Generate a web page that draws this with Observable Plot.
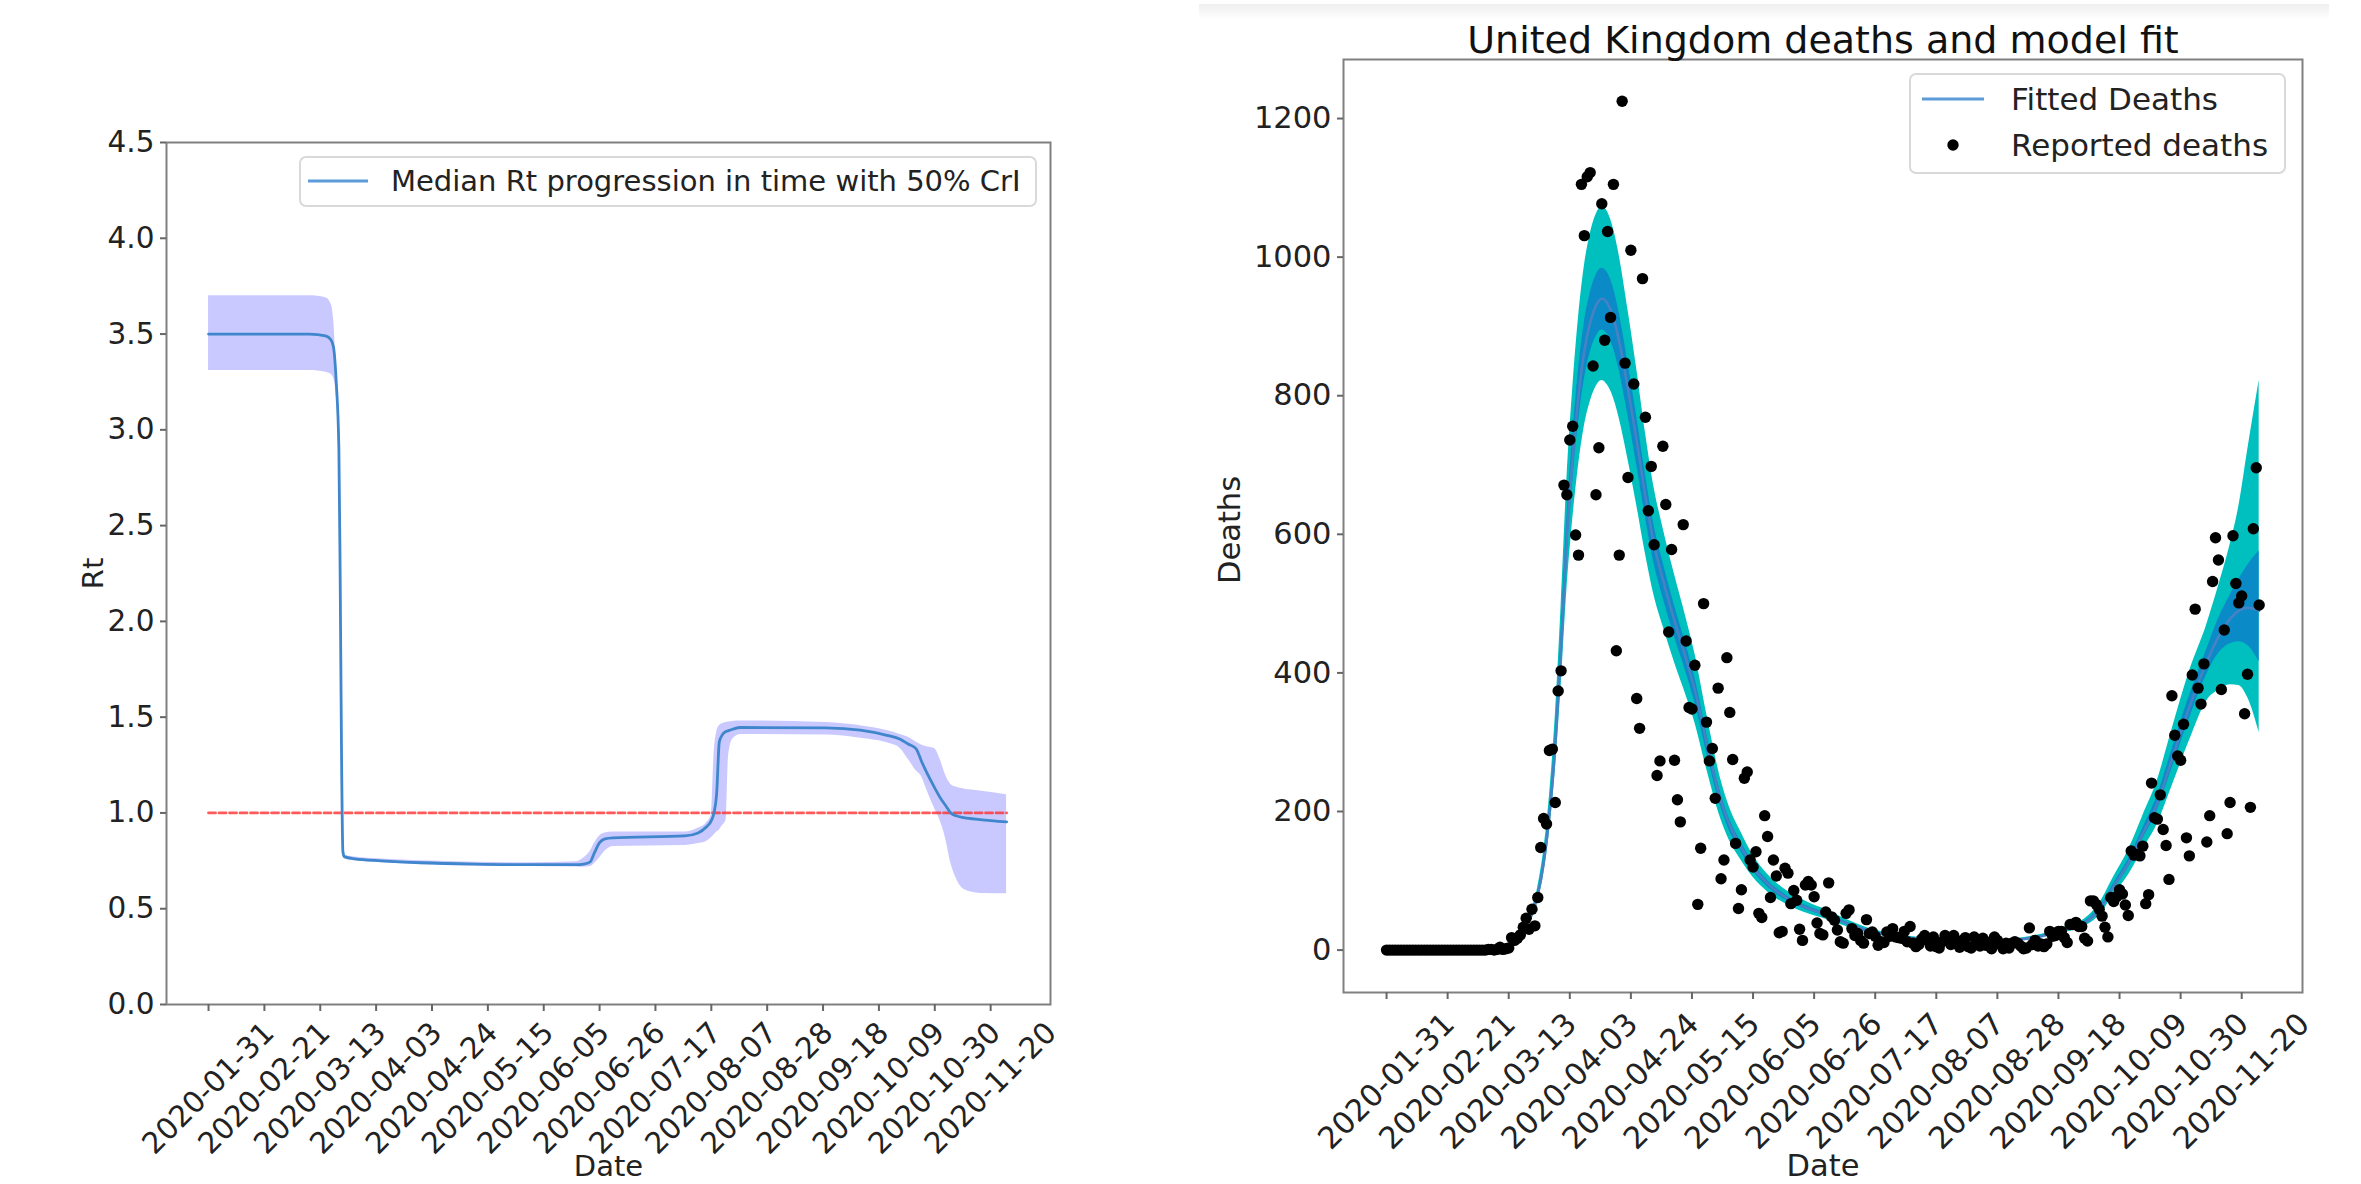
<!DOCTYPE html>
<html>
<head>
<meta charset="utf-8">
<script src="https://cdn.jsdelivr.net/npm/d3@7"></script>
<script src="https://cdn.jsdelivr.net/npm/@observablehq/plot@0.6"></script>
<style>
html, body { margin: 0; padding: 0; background: #fff; }
body { width: 2361px; height: 1184px; position: relative; overflow: hidden; font-family: "DejaVu Sans", sans-serif; }
#left { position: absolute; left: 0; top: 0; }
#right { position: absolute; left: 1181px; top: 0; }
#topbar { position: absolute; left: 1199px; top: 4px; width: 1130px; height: 16px; background: linear-gradient(#efefef, #fff); }
#overlay { position: absolute; left: 0; top: 0; pointer-events: none; }
</style>
</head>
<body>
<div id="topbar"></div>
<div id="left"></div>
<div id="right"></div>
<script>
// ---------------- data ----------------
const startDay = "2020-01-31";
const tickLabels = ["2020-01-31","2020-02-21","2020-03-13","2020-04-03","2020-04-24","2020-05-15","2020-06-05","2020-06-26","2020-07-17","2020-08-07","2020-08-28","2020-09-18","2020-10-09","2020-10-30","2020-11-20"];
const rtTicks = [0, 0.5, 1, 1.5, 2, 2.5, 3, 3.5, 4, 4.5];
const deathTicks = [0, 200, 400, 600, 800, 1000, 1200];
const rtThreshold = 1;

// Rt (days since start)
const rtDay = [0,38,44,46,47,48,49,49.5,50,50.5, 51,55,65,80,100,120,138,141,143.5,145, 147,149,152,179,184,187,189,190,191,192, 193,194.5,195.5,197,200,232,245,255,260,263, 266,268,270,273,275,277,279,281,284,290, 300];
const rtMedian = [3.50,3.50,3.49,3.47,3.43,3.25,2.90,2.20,1.30,0.80, 0.772,0.760,0.750,0.740,0.733,0.730,0.730,0.733,0.745,0.79, 0.845,0.865,0.87,0.88,0.895,0.925,0.96,1.0,1.10,1.37, 1.405,1.425,1.43,1.437,1.446,1.444,1.432,1.405,1.385,1.36, 1.335,1.27,1.21,1.13,1.08,1.04,1.00,0.985,0.975,0.965, 0.953];
const rtLow = [3.31,3.31,3.30,3.29,3.27,3.18,2.86,2.17,1.28,0.79, 0.762,0.750,0.740,0.730,0.723,0.720,0.718,0.716,0.72,0.735, 0.765,0.80,0.825,0.83,0.84,0.85,0.87,0.885,0.90,0.91, 0.93,0.96,1.30,1.385,1.41,1.407,1.39,1.366,1.337,1.28, 1.22,1.19,1.12,1.02,0.96,0.87,0.74,0.66,0.60,0.58, 0.578];
const rtHigh = [3.70,3.70,3.69,3.66,3.58,3.32,2.94,2.23,1.32,0.81, 0.782,0.770,0.760,0.750,0.743,0.740,0.745,0.765,0.80,0.84, 0.88,0.895,0.90,0.90,0.92,0.945,0.99,1.30,1.42,1.455, 1.465,1.472,1.475,1.478,1.48,1.472,1.455,1.43,1.41,1.395, 1.37,1.355,1.345,1.335,1.28,1.20,1.15,1.135,1.125,1.115, 1.095];

// Reported daily deaths, one value per day from startDay
const reportedDeaths = [
0,0,0,0,0,0,0,0,0,0,
0,0,0,0,0,0,0,0,0,0,
0,0,0,0,0,0,0,0,0,0,
0,0,0,0,0,1,1,0,1,4,
1,2,3,18,14,17,22,33,46,30,
59,35,76,148,190,182,288,290,213,374,
403,671,657,736,756,599,570,1105,1031,1116,
1122,843,657,725,1077,880,1037,913,1105,432,
570,1225,847,682,1010,817,363,320,969,769,
634,698,585,252,273,727,643,459,578,274,
217,185,614,446,350,348,411,66,147,500,
329,273,291,219,378,103,130,422,343,275,
154,60,87,248,257,130,120,142,53,47,
194,164,76,130,107,25,27,118,111,67,
86,72,30,14,94,99,94,77,39,24,
22,55,97,48,43,29,12,10,53,58,
31,21,24,14,10,44,24,26,20,7,
12,11,26,20,31,19,18,17,27,12,
34,10,5,8,16,21,14,6,19,5,
3,12,21,14,8,21,10,4,14,18,
5,3,19,12,6,17,7,11,2,19,
14,8,2,10,3,10,12,10,6,2,
3,32,8,14,6,9,5,9,27,20,
21,27,27,18,11,37,37,40,34,34,
17,13,71,71,66,59,49,33,19,76,
70,77,87,81,65,50,143,137,138,136,
150,67,80,241,191,189,224,174,151,102,
367,310,280,274,326,162,136,397,492,378,
355,413,156,194,532,595,563,376,462,168,
213,598,529,501,511,341,398,206,608,696,
498];

// Fitted deaths (days since start)
const fitDay = [0,20,30,35,38,42,46,50,52,54, 56,58,60,62,64,66,68,70,72,74, 76,78,80,83,86,89,92,95,99,103, 106,110,115,118,122,126,131,138,145,151, 158,164,172,181,190,199,208,216,224,232, 239,245,250,255,260,265,270,276,282,286, 290,293,296,300];
const fitMedian = [0,0.05,0.4,1.2,2.5,7,20,52,80,125, 195,295,435,595,710,800,865,905,930,940, 933,912,878,810,735,655,585,535,475,420, 375,300,215,180,148,120,96,74,60,51, 39,30,22,17,14,12,12.5,14.5,19,28, 37,58,92,125,168,212,275,350,416,452, 478,490,494,490];
const fitLow50 = [0,0.05,0.38,1.14,2.38,6.7,19,49.5,76,119, 186,281,414,566,676,762,823,862,885,895, 888,868,836,771,700,624,557,509,452,400, 357,286,205,171,141,114,91,70.4,57.1,48.6, 37.1,28.6,20.9,16.2,13.3,11.4,11.9,13.8,18.1,26.7, 35.2,55,88,119,160,202,262,334,398,428, 442,445,440,416];
const fitHigh50 = [0,0.05,0.42,1.26,2.62,7.3,20.9,54.4,84,131, 204,309,455,623,743,838,906,948,974,984, 977,955,919,848,770,686,612,560,497,440, 393,314,225,188,155,126,100.5,77.5,62.8,53.4, 40.8,31.4,23,17.8,14.7,12.6,13.1,15.2,19.9,29.3, 38.7,61,96,131,176,223,289,367,434,478, 512,535,555,576];
const fitLow95 = [0,0.04,0.35,1.05,2.19,6.1,17.5,45.4,70,109, 170,258,380,520,621,699,756,791,813,822, 815,797,767,708,642,572,511,468,415,367, 328,262,188,157,129,105,84,64.7,52.4,44.6, 34.1,26.2,19.2,14.9,12.2,10.5,10.9,12.7,16.6,24.5, 32.3,50,80,108,145,182,236,302,360,375, 383,382,365,314];
const fitHigh95 = [0,0.06,0.46,1.37,2.85,8,22.8,59.3,91,143, 222,337,496,679,810,913,987,1033,1061,1073, 1065,1041,1002,924,839,747,667,610,542,479, 428,342,245,205,169,137,109.5,84.4,68.5,58.2, 44.5,34.2,25.1,19.4,16,13.7,14.3,16.5,21.7,32, 42.2,67,106,144,194,245,318,402,470,525, 585,640,720,822];

// ---------------- helpers ----------------
const t0 = new Date(startDay + "T00:00:00Z").getTime();
const dayToDate = d => new Date(t0 + d * 864e5);
const tickDates = tickLabels.map(s => new Date(s + "T00:00:00Z"));

const rtData = rtDay.map((d, i) => ({date: dayToDate(d), med: rtMedian[i], lo: rtLow[i], hi: rtHigh[i]}));
const rtExtent = d3.extent(rtData, d => d.date);
const rtRef = rtExtent.map(date => ({date, v: rtThreshold}));
const deathData = reportedDeaths.map((v, i) => ({date: dayToDate(i), v}));
const fitData = fitDay.map((d, i) => ({date: dayToDate(d), med: fitMedian[i], lo50: fitLow50[i], hi50: fitHigh50[i], lo95: fitLow95[i], hi95: fitHigh95[i]}));

const FONT = "'DejaVu Sans', sans-serif";
const TXT = "#222";
const AX = "#666";

// ---------------- left: Rt ----------------
const leftPlot = Plot.plot({
  width: 1100, height: 1184,
  marginLeft: 166, marginRight: 50, marginTop: 142, marginBottom: 180,
  style: {fontFamily: FONT, color: TXT, background: "transparent"},
  x: {type: "utc", domain: [dayToDate(-15.8), dayToDate(316.5)]},
  y: {domain: [0, 4.5]},
  marks: [
    Plot.areaY(rtData, {x: "date", y1: "lo", y2: "hi", fill: "#0000ff", fillOpacity: 0.21, curve: "monotone-x"}),
    Plot.lineY(rtRef, {x: "date", y: "v", stroke: "#ff3030", strokeOpacity: 0.8, strokeWidth: 2.8, strokeDasharray: "7,3.5"}),
    Plot.lineY(rtData, {x: "date", y: "med", stroke: "#3f86cc", strokeWidth: 2.8, curve: "monotone-x"}),
    Plot.frame({stroke: "#808080", strokeWidth: 2}),
    Plot.axisY({ticks: rtTicks, tickFormat: d3.format(".1f"), tickSize: 6, tickPadding: 6, fontSize: 29.5, stroke: AX, strokeWidth: 2, fill: TXT, label: null}),
    Plot.axisX({ticks: tickDates, tickFormat: () => "", tickSize: 7, stroke: AX, strokeWidth: 2, label: null}),
    Plot.text(tickDates, {x: d => d, text: (d, i) => tickLabels[i], frameAnchor: "bottom", dy: 84, rotate: -45, textAnchor: "middle", lineAnchor: "middle", fontSize: 29.5, fill: TXT}),
    Plot.text(["Rt"], {text: d => d, frameAnchor: "left", dx: -73, rotate: -90, textAnchor: "middle", lineAnchor: "middle", fontSize: 29, fill: TXT}),
    Plot.text(["Date"], {text: d => d, frameAnchor: "bottom", dy: 162, textAnchor: "middle", lineAnchor: "middle", fontSize: 29, fill: TXT})
  ]
});
document.getElementById("left").appendChild(leftPlot);

// ---------------- right: deaths ----------------
const rightPlot = Plot.plot({
  width: 1180, height: 1184,
  marginLeft: 162, marginRight: 59, marginTop: 59, marginBottom: 192,
  style: {fontFamily: FONT, color: TXT, background: "transparent"},
  x: {type: "utc", domain: [dayToDate(-14.8), dayToDate(314.9)]},
  y: {domain: [-61.2, 1285.2]},
  marks: [
    Plot.areaY(fitData, {x: "date", y1: "lo95", y2: "hi95", fill: "#00bfbf", curve: "monotone-x"}),
    Plot.areaY(fitData, {x: "date", y1: "lo50", y2: "hi50", fill: "#0b8ac8", curve: "monotone-x"}),
    Plot.lineY(fitData, {x: "date", y: "med", stroke: "#4682c4", strokeWidth: 2.6, curve: "monotone-x"}),
    Plot.dot(deathData, {x: "date", y: "v", r: 5.7, fill: "#000", stroke: "none"}),
    Plot.frame({stroke: "#808080", strokeWidth: 2}),
    Plot.axisY({ticks: deathTicks, tickFormat: d3.format("d"), tickSize: 6, tickPadding: 6, fontSize: 30.5, stroke: AX, strokeWidth: 2, fill: TXT, label: null}),
    Plot.axisX({ticks: tickDates, tickFormat: () => "", tickSize: 7, stroke: AX, strokeWidth: 2, label: null}),
    Plot.text(tickDates, {x: d => d, text: (d, i) => tickLabels[i], frameAnchor: "bottom", dy: 89, rotate: -45, textAnchor: "middle", lineAnchor: "middle", fontSize: 30.5, fill: TXT}),
    Plot.text(["Deaths"], {text: d => d, frameAnchor: "left", dx: -113, dy: 4, rotate: -90, textAnchor: "middle", lineAnchor: "middle", fontSize: 30.5, fill: TXT}),
    Plot.text(["Date"], {text: d => d, frameAnchor: "bottom", dy: 174, textAnchor: "middle", lineAnchor: "middle", fontSize: 30.5, fill: TXT}),
    Plot.text(["United Kingdom deaths and model fit"], {text: d => d, frameAnchor: "top", dy: -7, textAnchor: "middle", lineAnchor: "bottom", fontSize: 38, fill: "#111"})
  ]
});
document.getElementById("right").appendChild(rightPlot);

// ---------------- legends (overlay) ----------------
const ov = d3.select("body").append("svg").attr("id", "overlay")
  .attr("width", 2361).attr("height", 1184)
  .style("font-family", FONT);

// left legend
ov.append("rect").attr("x", 300).attr("y", 157).attr("width", 736).attr("height", 49).attr("rx", 6)
  .attr("fill", "#fff").attr("fill-opacity", 0.8).attr("stroke", "#d9d9d9").attr("stroke-width", 2);
ov.append("line").attr("x1", 308).attr("x2", 368).attr("y1", 181).attr("y2", 181)
  .attr("stroke", "#5a9bd8").attr("stroke-width", 3);
ov.append("text").attr("x", 391).attr("y", 181).attr("dominant-baseline", "central")
  .attr("font-size", 29).attr("fill", TXT).text("Median Rt progression in time with 50% CrI");

// right legend
ov.append("rect").attr("x", 1910).attr("y", 74).attr("width", 375).attr("height", 99).attr("rx", 6)
  .attr("fill", "#fff").attr("fill-opacity", 0.8).attr("stroke", "#d9d9d9").attr("stroke-width", 2);
ov.append("line").attr("x1", 1922).attr("x2", 1984).attr("y1", 99).attr("y2", 99)
  .attr("stroke", "#5a9bd8").attr("stroke-width", 3);
ov.append("circle").attr("cx", 1953).attr("cy", 145).attr("r", 5.7).attr("fill", "#000");
ov.append("text").attr("x", 2011).attr("y", 99).attr("dominant-baseline", "central")
  .attr("font-size", 31).attr("fill", TXT).text("Fitted Deaths");
ov.append("text").attr("x", 2011).attr("y", 145).attr("dominant-baseline", "central")
  .attr("font-size", 31).attr("fill", TXT).text("Reported deaths");
</script>
</body>
</html>
